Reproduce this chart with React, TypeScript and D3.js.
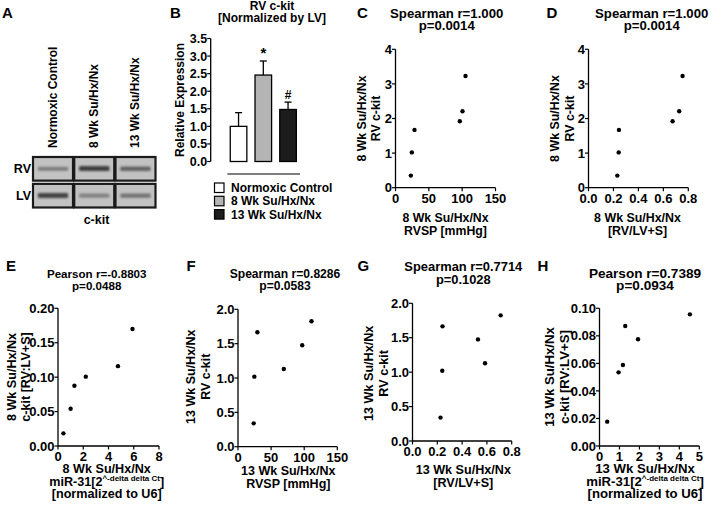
import React from "react";
import * as d3 from "d3";

const FONT = "'Liberation Sans', Arial, Helvetica, sans-serif";

// ---------- Panel A (blot) ----------
const blotLanes = ["Normoxic Control", "8 Wk Su/Hx/Nx", "13 Wk Su/Hx/Nx"];
const blotRows = ["RV", "LV"];
const rvBandIntensity = [0.35, 0.95, 0.6];
const lvBandIntensity = [0.9, 0.3, 0.45];

// ---------- Panel B (bars) ----------
const barGroups = ["Normoxic Control", "8 Wk Su/Hx/Nx", "13 Wk Su/Hx/Nx"];
const barMeans = [1.0, 2.46, 1.48];
const barErrors = [0.39, 0.4, 0.21];
const barMarks = ["", "*", "#"];
const barFills = ["#ffffff", "#b4b4b4", "#1c1c1c"];
const barTicks = [0, 0.5, 1, 1.5, 2, 2.5, 3, 3.5];

// ---------- Panels C/D (8 Wk) ----------
const rvsp8 = [23, 24.5, 28.5, 96.5, 100.5, 105];
const rvlvs8 = [0.231, 0.242, 0.244, 0.674, 0.727, 0.754];
const ckit8 = [0.35, 1.02, 1.67, 1.92, 2.21, 3.23];

// ---------- Panel E ----------
const mir31_8 = [0.43, 1.0, 1.3, 2.2, 4.75, 5.9];
const ratio8 = [0.0184, 0.054, 0.0876, 0.1007, 0.116, 0.17];

// ---------- Panels F/G (13 Wk) ----------
const rvsp13 = [23.7, 24.7, 29.3, 69.2, 97, 111];
const rvlvs13 = [0.226, 0.24, 0.242, 0.585, 0.528, 0.711];
const ckit13 = [0.34, 1.02, 1.665, 1.13, 1.476, 1.825];

// ---------- Panel H ----------
const mir31_13 = [0.386, 0.956, 1.174, 1.29, 1.93, 4.53];
const ratio13 = [0.0177, 0.0535, 0.0588, 0.0872, 0.0775, 0.0956];

// tick values
const ticksRvsp = [0, 50, 100, 150];
const ticksRatio = [0, 0.2, 0.4, 0.6, 0.8];
const ticksCkit8 = [0, 1, 2, 3, 4];
const ticksCkit13 = [0, 0.5, 1, 1.5, 2];
const ticksMir8 = [0, 2, 4, 6, 8];
const ticksMir13 = [0, 1, 2, 3, 4, 5];
const ticksRatio8 = [0, 0.05, 0.1, 0.15, 0.2];
const ticksRatio13 = [0, 0.02, 0.04, 0.06, 0.08, 0.1];

const fD = d3.format("d");
const f1 = d3.format(".1f");
const f2 = d3.format(".2f");

type ScatterProps = {
  xr: [number, number];
  yr: [number, number];
  xd: [number, number];
  yd: [number, number];
  xt: number[];
  yt: number[];
  xf: (v: number) => string;
  yf: (v: number) => string;
  xs: number[];
  ys: number[];
  letter: string;
  letterPos: [number, number];
  title: string[];
  titlePos: [number, number];
  titleSize: number;
  labelSize: number;
  xlab: React.ReactNode[];
  xlabPos: [number, number];
  xlabGap?: number;
  ylab: string[];
  ylabX: number[];
  ylabY: number;
};

function Scatter(p: ScatterProps) {
  const x = d3.scaleLinear().domain(p.xd).range(p.xr);
  const y = d3.scaleLinear().domain(p.yd).range(p.yr);
  const ax = p.xr[0];
  const ay = p.yr[0];
  const gap = p.xlabGap ?? 13;
  return (
    <g>
      <text x={p.letterPos[0]} y={p.letterPos[1]} fontSize={15} fontWeight="bold">
        {p.letter}
      </text>
      {p.title.map((t, i) => (
        <text key={i} x={p.titlePos[0]} y={p.titlePos[1] + i * 12.5} textAnchor="middle" fontSize={p.titleSize} fontWeight="bold">
          {t}
        </text>
      ))}
      <line x1={ax} x2={p.xr[1]} y1={ay} y2={ay} stroke="#000" strokeWidth={1.3} />
      <line x1={ax} x2={ax} y1={ay} y2={p.yr[1]} stroke="#000" strokeWidth={1.3} />
      {p.xt.map((t) => (
        <g key={"x" + t}>
          <line x1={x(t)} x2={x(t)} y1={ay} y2={ay + 3.5} stroke="#000" strokeWidth={1.2} />
          <text x={x(t)} y={ay + 15} textAnchor="middle" fontSize={13} fontWeight="bold">
            {p.xf(t)}
          </text>
        </g>
      ))}
      {p.yt.map((t) => (
        <g key={"y" + t}>
          <line x1={ax - 3.5} x2={ax} y1={y(t)} y2={y(t)} stroke="#000" strokeWidth={1.2} />
          <text x={ax - 3.5} y={y(t) + 4.6} textAnchor="end" fontSize={13} fontWeight="bold">
            {p.yf(t)}
          </text>
        </g>
      ))}
      {p.xs.map((v, i) => (
        <circle key={i} cx={x(v)} cy={y(p.ys[i])} r={2.2} fill="#000" />
      ))}
      {p.xlab.map((t, i) => (
        <text key={i} x={p.xlabPos[0]} y={p.xlabPos[1] + i * gap} textAnchor="middle" fontSize={p.labelSize} fontWeight="bold">
          {t}
        </text>
      ))}
      {p.ylab.map((t, i) => (
        <text
          key={i}
          transform={`translate(${p.ylabX[i] + 4.3},${p.ylabY}) rotate(-90)`}
          textAnchor="middle"
          fontSize={p.labelSize}
          fontWeight="bold"
        >
          {t}
        </text>
      ))}
    </g>
  );
}

const mirLine = (
  <>
    miR-31[2
    <tspan fontSize={8} dy={-5}>
      ^-delta delta Ct
    </tspan>
    <tspan dy={5}>]</tspan>
  </>
);

function Blot() {
  const lx = d3.scaleBand().domain(blotLanes).range([33, 155.5]).paddingInner(0.03);
  const ry = d3.scaleBand().domain(blotRows).range([157, 207.5]).paddingInner(0.12);
  const intens = [rvBandIntensity, lvBandIntensity];
  return (
    <g>
      <text x={2} y={17.5} fontSize={15} fontWeight="bold">A</text>
      {blotLanes.map((l) => (
        <text
          key={l}
          transform={`translate(${(lx(l) as number) + lx.bandwidth() / 2 + 4},148) rotate(-90)`}
          fontSize={12}
          fontWeight="bold"
        >
          {l}
        </text>
      ))}
      {blotRows.map((r, ri) => (
        <g key={r}>
          <text x={31} y={(ry(r) as number) + ry.bandwidth() / 2 + 4.5} textAnchor="end" fontSize={12.5} fontWeight="bold">
            {r}
          </text>
          {blotLanes.map((l, li) => {
            const x0 = lx(l) as number;
            const y0 = ry(r) as number;
            const w = lx.bandwidth();
            const h = ry.bandwidth();
            const v = intens[ri][li];
            return (
              <g key={l}>
                <rect x={x0} y={y0} width={w} height={h} fill="#c2c2c2" stroke="#1a1a1a" strokeWidth={2.2} />
                <rect
                  x={x0 + w * 0.12}
                  y={y0 + h / 2 - 1.8 - v}
                  width={w * 0.76}
                  height={3.6 + v * 1.5}
                  rx={1.5}
                  fill="#202020"
                  opacity={0.2 + v * 0.65}
                  filter="url(#bandBlur)"
                />
              </g>
            );
          })}
        </g>
      ))}
      <text x={96.5} y={224} textAnchor="middle" fontSize={12.5} fontWeight="bold">c-kit</text>
    </g>
  );
}

function Bars() {
  const x = d3.scaleBand().domain(barGroups).range([226.3, 300.3]).paddingInner(0.33).paddingOuter(0.16);
  const y = d3.scaleLinear().domain([0, 3.5]).range([161.5, 38.5]);
  const ax = 210.7;
  return (
    <g>
      <text x={170} y={17.5} fontSize={15} fontWeight="bold">B</text>
      <text x={272} y={10} textAnchor="middle" fontSize={12} fontWeight="bold">RV c-kit</text>
      <text x={272} y={21.5} textAnchor="middle" fontSize={12} fontWeight="bold">[Normalized by LV]</text>
      <text transform={`translate(184,100) rotate(-90)`} textAnchor="middle" fontSize={12} fontWeight="bold">
        Relative Expression
      </text>
      <line x1={ax} x2={ax} y1={y(0)} y2={y(3.5)} stroke="#000" strokeWidth={1.3} />
      {barTicks.map((t) => (
        <g key={t}>
          <line x1={ax - 3.5} x2={ax} y1={y(t)} y2={y(t)} stroke="#000" strokeWidth={1.2} />
          <text x={ax - 3.5} y={y(t) + 4.5} textAnchor="end" fontSize={12.5} fontWeight="bold">
            {f1(t)}
          </text>
        </g>
      ))}
      {barGroups.map((g, i) => {
        const x0 = x(g) as number;
        const cx = x0 + x.bandwidth() / 2;
        return (
          <g key={g}>
            <line x1={cx} x2={cx} y1={y(barMeans[i])} y2={y(barMeans[i] + barErrors[i])} stroke="#000" strokeWidth={1.3} />
            <line x1={cx - 3.5} x2={cx + 3.5} y1={y(barMeans[i] + barErrors[i])} y2={y(barMeans[i] + barErrors[i])} stroke="#000" strokeWidth={1.3} />
            <rect
              x={x0}
              y={y(barMeans[i])}
              width={x.bandwidth()}
              height={y(0) - y(barMeans[i])}
              fill={barFills[i]}
              stroke="#000"
              strokeWidth={1.3}
            />
            {barMarks[i] && (
              <text x={cx} y={y(barMeans[i] + barErrors[i]) - 3} textAnchor="middle" fontSize={barMarks[i] === "*" ? 15 : 12} fontWeight="bold">
                {barMarks[i]}
              </text>
            )}
          </g>
        );
      })}
      <line x1={227.3} x2={300} y1={174} y2={174} stroke="#000" strokeWidth={1.2} />
      {barGroups.map((g, i) => (
        <g key={"lg" + g}>
          <rect x={214.5} y={183 + i * 13.3} width={9.5} height={9.5} fill={barFills[i]} stroke="#000" strokeWidth={1.2} />
          <text x={231} y={192 + i * 13.3} fontSize={12} fontWeight="bold">
            {g}
          </text>
        </g>
      ))}
    </g>
  );
}

export default function App() {
  return (
    <svg
      width={712}
      height={516}
      style={{ position: "absolute", left: 0, top: 0, background: "#fff" }}
      fontFamily={FONT}
    >
      <defs>
        <filter id="bandBlur" x="-20%" y="-100%" width="140%" height="300%">
          <feGaussianBlur stdDeviation="1.1" />
        </filter>
      </defs>
      <rect width={712} height={516} fill="#fff" />
      <Blot />
      <Bars />
      <Scatter
        xr={[395.5, 495.5]} yr={[187.7, 49.3]} xd={[0, 150]} yd={[0, 4]}
        xt={ticksRvsp} yt={ticksCkit8} xf={fD} yf={fD} xs={rvsp8} ys={ckit8}
        letter="C" letterPos={[357, 17.5]}
        title={["Spearman r=1.000", "p=0.0014"]} titlePos={[446.7, 17.5]} titleSize={13.2} labelSize={12.3}
        xlab={["8 Wk Su/Hx/Nx", "RVSP [mmHg]"]} xlabPos={[445.5, 222]}
        ylab={["8 Wk Su/Hx/Nx", "RV c-kit"]} ylabX={[361.7, 376]} ylabY={118.5}
      />
      <Scatter
        xr={[588.5, 688.3]} yr={[187.7, 49.3]} xd={[0, 0.8]} yd={[0, 4]}
        xt={ticksRatio} yt={ticksCkit8} xf={f1} yf={fD} xs={rvlvs8} ys={ckit8}
        letter="D" letterPos={[546.5, 17.5]}
        title={["Spearman r=1.000", "p=0.0014"]} titlePos={[651.7, 17.5]} titleSize={13.2} labelSize={12.4}
        xlab={["8 Wk Su/Hx/Nx", "[RV/LV+S]"]} xlabPos={[637.5, 222]}
        ylab={["8 Wk Su/Hx/Nx", "RV c-kit"]} ylabX={[555, 569.3]} ylabY={118.5}
      />
      <Scatter
        xr={[58, 159]} yr={[446, 308.3]} xd={[0, 8]} yd={[0, 0.2]}
        xt={ticksMir8} yt={ticksRatio8} xf={fD} yf={f2} xs={mir31_8} ys={ratio8}
        letter="E" letterPos={[6, 270.5]}
        title={["Pearson r=-0.8803", "p=0.0488"]} titlePos={[96.7, 277.5]} titleSize={11.6} labelSize={12.6}
        xlab={["8 Wk Su/Hx/Nx", mirLine, "[normalized to U6]"]} xlabPos={[106.7, 473]} xlabGap={12.6}
        ylab={["8 Wk Su/Hx/Nx", "c-kit [RV:LV+S]"]} ylabX={[11.7, 26]} ylabY={377}
      />
      <Scatter
        xr={[238, 337.3]} yr={[446.7, 309.3]} xd={[0, 150]} yd={[0, 2]}
        xt={ticksRvsp} yt={ticksCkit13} xf={fD} yf={f1} xs={rvsp13} ys={ckit13}
        letter="F" letterPos={[186.5, 270.5]}
        title={["Spearman r=0.8286", "p=0.0583"]} titlePos={[285, 277.5]} titleSize={12.1} labelSize={12.5}
        xlab={["13 Wk Su/Hx/Nx", "RVSP [mmHg]"]} xlabPos={[288.3, 474.5]}
        ylab={["13 Wk Su/Hx/Nx", "RV c-kit"]} ylabX={[191, 205.7]} ylabY={376.7}
      />
      <Scatter
        xr={[412.5, 511.7]} yr={[441, 303.3]} xd={[0, 0.8]} yd={[0, 2]}
        xt={ticksRatio} yt={ticksCkit13} xf={f1} yf={f1} xs={rvlvs13} ys={ckit13}
        letter="G" letterPos={[357.5, 270.5]}
        title={["Spearman r=0.7714", "p=0.1028"]} titlePos={[463.3, 271]} titleSize={12.9} labelSize={12.6}
        xlab={["13 Wk Su/Hx/Nx", "[RV/LV+S]"]} xlabPos={[463.3, 474]}
        ylab={["13 Wk Su/Hx/Nx", "RV c-kit"]} ylabX={[368.3, 383.3]} ylabY={373.3}
      />
      <Scatter
        xr={[599.5, 699.3]} yr={[446, 308.3]} xd={[0, 5]} yd={[0, 0.1]}
        xt={ticksMir13} yt={ticksRatio13} xf={fD} yf={f2} xs={mir31_13} ys={ratio13}
        letter="H" letterPos={[537.5, 270.5]}
        title={["Pearson r=0.7389", "p=0.0934"]} titlePos={[645, 277.5]} titleSize={13.6} labelSize={13.2}
        xlab={["13 Wk Su/Hx/Nx", mirLine, "[normalized to U6]"]} xlabPos={[645, 473]} xlabGap={12.6}
        ylab={["13 Wk Su/Hx/Nx", "c-kit [RV:LV+S]"]} ylabX={[550, 565]} ylabY={377}
      />
    </svg>
  );
}
